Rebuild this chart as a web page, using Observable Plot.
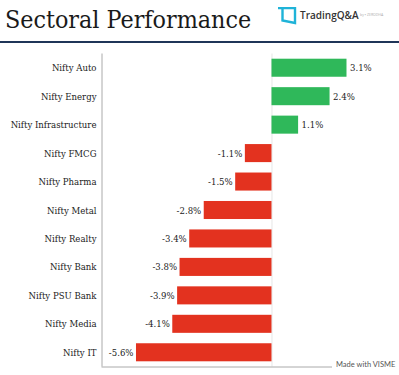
<!DOCTYPE html>
<html>
<head>
<meta charset="utf-8">
<script src="https://cdn.jsdelivr.net/npm/d3@7"></script>
<script src="https://cdn.jsdelivr.net/npm/@observablehq/plot@0.6"></script>
<style>
html,body{margin:0;padding:0;background:#fff;}
#page{position:relative;width:399px;height:375px;overflow:hidden;}
#title{position:absolute;left:5px;top:1px;font:24.8px/38px "DejaVu Serif Condensed","DejaVu Serif",serif;color:#1a1a1a;white-space:nowrap;}
#hr{position:absolute;left:0;top:40.5px;width:399px;height:2px;background:#1f3558;}
#brand{position:absolute;left:300px;top:7px;font:600 10px/16px "Open Sans",sans-serif;color:#333;white-space:nowrap;}
#by{position:absolute;left:360px;top:12px;font:3.5px/6px "Open Sans",sans-serif;color:#aaa;white-space:nowrap;}
#logo{position:absolute;left:277px;top:7px;}
#visme{position:absolute;left:332px;top:358px;width:67px;height:12px;background:#fff;font:7.5px/14px Lato,sans-serif;color:#555;padding-left:4px;box-sizing:border-box;white-space:nowrap;}
#chart{position:absolute;left:0;top:0;}
</style>
</head>
<body>
<div id="page">
<div id="chart"></div>
<div id="title">Sectoral Performance</div>
<div id="hr"></div>
<svg id="logo" width="20" height="18" viewBox="0 0 20 18"><path d="M1 1H18V16L5.5 13.5V2" fill="none" stroke="#1fb3d8" stroke-width="2.4"/></svg>
<div id="brand">TradingQ&amp;A</div>
<div id="by">by ▪ ZERODHA</div>
<div id="visme">Made with VISME</div>
</div>
<script>
const sectors = ["Nifty Auto","Nifty Energy","Nifty Infrastructure","Nifty FMCG","Nifty Pharma","Nifty Metal","Nifty Realty","Nifty Bank","Nifty PSU Bank","Nifty Media","Nifty IT"];
const changes = [3.1,2.4,1.1,-1.1,-1.5,-2.8,-3.4,-3.8,-3.9,-4.1,-5.6];
const rows = sectors.map((name,i)=>({name,value:changes[i]}));
const serif = '"DejaVu Serif Condensed","DejaVu Serif",serif';
const label = d=>d.value+"%";
const plot = Plot.plot({
  width:399,height:375,
  marginLeft:101.5,marginRight:0,marginTop:53.5,marginBottom:8.5,
  style:{background:"transparent",fontFamily:serif},
  x:{domain:[-7.025,5.27],axis:null},
  y:{domain:sectors,paddingInner:0.366,paddingOuter:0.183,round:false,label:null,tickSize:0},
  marks:[
    Plot.ruleX([0],{stroke:"#e6e6e6",strokeWidth:1}),
    Plot.barX(rows,{x:"value",y:"name",fill:d=>d.value>=0?"#2fb85a":"#e3321f"}),
    Plot.ruleX([-7.025],{stroke:"#aaa",strokeWidth:1}),
    Plot.frame({anchor:"bottom",stroke:"#aaa"}),
    Plot.axisY({anchor:"left",tickSize:0,tickPadding:5.5,fontSize:9.5,label:null,fill:"#222"}),
    Plot.text(rows.filter(d=>d.value>=0),{x:"value",y:"name",text:label,dx:3,textAnchor:"start",fontSize:9.5,fill:"#222"}),
    Plot.text(rows.filter(d=>d.value<0),{x:"value",y:"name",text:label,dx:-3,textAnchor:"end",fontSize:9.5,fill:"#222"})
  ]
});
document.getElementById("chart").appendChild(plot);
</script>
</body>
</html>
